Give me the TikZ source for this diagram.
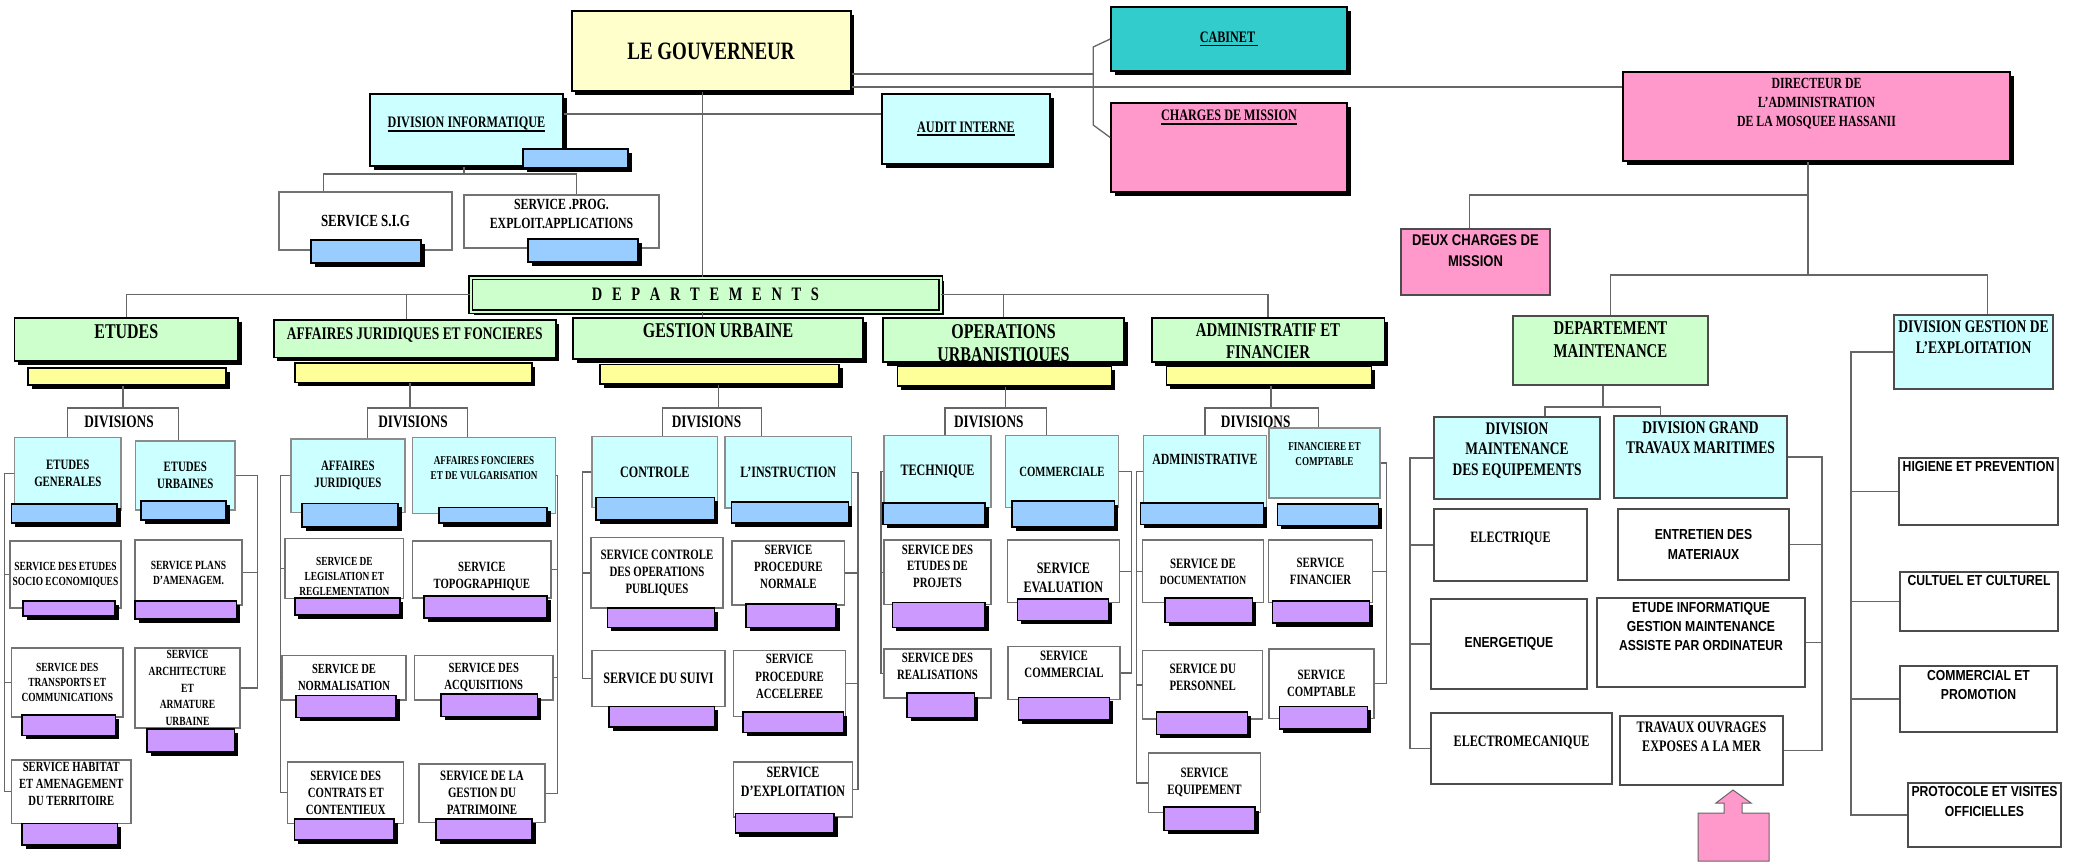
\documentclass[tikz,border=0pt]{standalone}
\usepackage{fontspec}
\setmainfont{Liberation Serif}[FakeStretch=0.76]
\newfontfamily\sansf{Liberation Sans}[FakeStretch=0.84]
\usepackage{tikz}
\usetikzlibrary{shadows}

\definecolor{govyellow}{HTML}{FFFFCC}
\definecolor{divcyan}{HTML}{CCFFFF}
\definecolor{barblue}{HTML}{99CCFF}
\definecolor{deptgreen}{HTML}{CCFFCC}
\definecolor{baryellow}{HTML}{FFFF99}
\definecolor{barlilac}{HTML}{CC99FF}
\definecolor{pinkc}{HTML}{FF99CC}
\definecolor{cabteal}{HTML}{33CCCC}

\newcommand\ulx[1]{\setbox0\hbox{#1}\leavevmode\rlap{\vrule height -2pt depth 3.6pt width \wd0}\box0}

\tikzset{
  ln/.style={draw=black!60, line width=1.3pt},
  shd/.style={general shadow={fill=black, shadow xshift=3.5pt, shadow yshift=-3.5pt}},
  sz/.style 2 args={minimum width=#1, minimum height=#2},
  fs/.style 2 args={font=\bfseries\fontsize{#1}{#2}\selectfont},
  fss/.style 2 args={font=\sansf\bfseries\fontsize{#1}{#2}\selectfont},
  lbl/.style={anchor=north, align=center, inner sep=0pt},
  chief/.style={draw=black, line width=1.6pt, shd, align=center, inner sep=0pt},
  dept/.style={chief, fill=deptgreen},
  divbox/.style={draw=black!45, line width=1.2pt, fill=divcyan, align=center, inner sep=0pt},
  svc/.style={draw=black!55, line width=1.2pt, fill=white, align=center, inner sep=0pt},
  flat/.style={draw=black!70, line width=1.2pt, fill=white, align=center, inner sep=0pt},
  bluebar/.style={draw=black, line width=1.2pt, fill=barblue, shd, inner sep=0pt},
  lilbar/.style={draw=black, line width=1.2pt, fill=barlilac, shd, inner sep=0pt},
  yelbar/.style={draw=black, line width=1.2pt, fill=baryellow, shd, inner sep=0pt},
}

\begin{document}
\begin{tikzpicture}[x=1pt, y=-1pt]
  \fill[white] (0,0) rectangle (2074,863);
  \useasboundingbox (0,0) rectangle (2074,863);

  % Gouverneur and staff
  \node[chief, fill=govyellow, line width=2pt, sz={279}{80}, fs={25}{28}] (gov) at (711,51) {LE GOUVERNEUR};
  \node[chief, fill=divcyan, sz={193}{72},
        label={[lbl, fs={16}{18}, yshift=-24pt]north:\ulx{DIVISION INFORMATIQUE}}] (divinfo) at (466.5,130) {};
  \node[bluebar, sz={105}{19}] (divinfob) at (575.5,158.5) {};
  \node[chief, fill=divcyan, sz={168}{70}, fs={16}{18}] (audit) at (966,129) {\ulx{AUDIT INTERNE}};
  \node[svc, sz={173}{58}, fs={17}{19}] (sig) at (365.5,221) {SERVICE S.I.G};
  \node[bluebar, sz={110}{23}] (sigb) at (366,251.5) {};
  \node[svc, sz={195}{53},
        label={[lbl, fs={15.5}{19}, yshift=-5pt]north:SERVICE .PROG.\\EXPLOIT.APPLICATIONS}] (prog) at (561.5,221.5) {};
  \node[bluebar, sz={110}{23}] (progb) at (583,250.5) {};
  \node[chief, fill=cabteal, sz={236}{64}, fs={16}{18}] (cab) at (1229,39) {\ulx{CABINET\ }};
  \node[chief, fill=pinkc, sz={236}{89},
        label={[lbl, fs={16}{18}, yshift=-8pt]north:\ulx{CHARGES DE MISSION}}] (chg) at (1229,147.5) {};
  \node[chief, fill=pinkc, sz={387}{89},
        label={[lbl, fs={15.5}{19}, yshift=-7pt]north:DIRECTEUR DE\\L'ADMINISTRATION\\DE LA MOSQUEE HASSANII}] (dir) at (1816.5,116.5) {};

  % Departements bar
  \node[chief, fill=deptgreen, double=deptgreen, double distance=2pt, line width=1.2pt, sz={470}{34}, fs={19}{22}] (deptbar) at (705.5,294.5)
    {D\hspace{9.7pt}E\hspace{9.7pt}P\hspace{9.7pt}A\hspace{9.7pt}R\hspace{9.7pt}T\hspace{9.7pt}E\hspace{9.7pt}M\hspace{9.7pt}E\hspace{9.7pt}N\hspace{9.7pt}T\hspace{9.7pt}S};

  % Departements
  \node[dept, sz={223.5}{43}, label={[lbl, fs={21}{24}, yshift=-7pt]north:ETUDES}] (etudes) at (126.3,339.5) {};
  \node[dept, sz={282}{37.5}, label={[lbl, fs={17.7}{20}, yshift=-8pt]north:AFFAIRES JURIDIQUES ET FONCIERES}] (ajf) at (414.7,338.8) {};
  \node[dept, sz={290}{41}, label={[lbl, fs={21}{24}, yshift=-6pt]north:GESTION URBAINE}] (gu) at (718,338.5) {};
  \node[dept, sz={241}{44}, label={[lbl, fs={21}{23}, yshift=-7pt]north:OPERATIONS\\URBANISTIQUES}] (ou) at (1003.5,340) {};
  \node[dept, sz={232.6}{44}, label={[lbl, fs={19.5}{22.6}, yshift=-6pt]north:ADMINISTRATIF ET\\FINANCIER}] (af) at (1268,340) {};
  \node[yelbar, sz={198}{17}] (y1) at (127,376.5) {};
  \node[yelbar, sz={237}{19.6}] (y2) at (413.4,372.8) {};
  \node[yelbar, sz={239}{19.4}] (y3) at (719.5,374.3) {};
  \node[yelbar, sz={214}{19.6}] (y4) at (1004.6,376.2) {};
  \node[yelbar, sz={205}{18.6}] (y5) at (1269,375.7) {};
  \node[fs={17.5}{20}, inner sep=0pt] (dvt1) at (119,422) {DIVISIONS};
  \node[fs={17.5}{20}, inner sep=0pt] (dvt2) at (413,422) {DIVISIONS};
  \node[fs={17.5}{20}, inner sep=0pt] (dvt3) at (706.5,422) {DIVISIONS};
  \node[fs={17.5}{20}, inner sep=0pt] (dvt4) at (988.8,422) {DIVISIONS};
  \node[fs={17.5}{20}, inner sep=0pt] (dvt5) at (1255.7,422) {DIVISIONS};

  % Etudes
  \node[divbox, sz={106.5}{72.5}, fs={14.3}{17}] (eg) at (67.8,473.8) {ETUDES\\GENERALES};
  \node[bluebar, sz={105.5}{19}] (egb) at (64.3,513.5) {};
  \node[divbox, sz={99.5}{69}, fs={14.3}{17}] (eu) at (185.3,475.5) {ETUDES\\URBAINES};
  \node[bluebar, sz={85}{19}] (eub) at (183.5,510.5) {};
  \node[svc, sz={111}{67}, fs={12.4}{15}] (s11) at (65.5,574.5) {SERVICE DES ETUDES\\SOCIO ECONOMIQUES};
  \node[lilbar, sz={92}{15}] (s11b) at (69,608.5) {};
  \node[svc, sz={107}{65}, fs={12.5}{15}] (s12) at (188.5,572.5) {SERVICE PLANS\\D'AMENAGEM.};
  \node[lilbar, sz={101.5}{18}] (s12b) at (185.8,610) {};
  \node[svc, sz={111.5}{69}, fs={12.4}{15}] (s13) at (67.3,682.5) {SERVICE DES\\TRANSPORTS ET\\COMMUNICATIONS};
  \node[lilbar, sz={93.6}{20.5}] (s13b) at (68.8,725.3) {};
  \node[svc, sz={105}{80}, fs={12.5}{16.8}] (s14) at (187.5,688) {SERVICE\\ARCHITECTURE\\ET\\ARMATURE\\URBAINE};
  \node[lilbar, sz={87.6}{23}] (s14b) at (190.8,740.5) {};
  \node[svc, sz={119.5}{63.5}, label={[lbl, fs={14}{17}, yshift=-3pt]north:SERVICE HABITAT\\ET AMENAGEMENT\\DU TERRITOIRE}] (s15) at (71.3,791.8) {};
  \node[lilbar, sz={95.5}{21.5}] (s15b) at (69.8,834.3) {};

  % Affaires juridiques et foncieres
  \node[divbox, sz={114}{73.6}, fs={14.3}{17}] (aj) at (347.9,475.8) {AFFAIRES\\JURIDIQUES};
  \node[bluebar, sz={96}{23.4}] (ajb) at (350,515.3) {};
  \node[divbox, sz={143}{76}, label={[lbl, fs={12}{15}, yshift=-19.5pt]north:AFFAIRES FONCIERES\\ET DE VULGARISATION}] (afv) at (484.1,475.6) {};
  \node[bluebar, sz={108}{15.5}] (afvb) at (493,515.3) {};
  \node[svc, sz={118.7}{60}, label={[lbl, fs={12.3}{15}, yshift=-19pt]north:SERVICE DE\\LEGISLATION ET\\REGLEMENTATION}] (s21) at (344.4,568.8) {};
  \node[lilbar, sz={105}{17}] (s21b) at (347.4,606.5) {};
  \node[svc, sz={138.5}{57}, label={[lbl, fs={14.1}{17}, yshift=-22pt]north:SERVICE\\TOPOGRAPHIQUE}] (s22) at (481.8,569.5) {};
  \node[lilbar, sz={123}{22}] (s22b) at (485.5,607) {};
  \node[svc, sz={124}{44.5}, fs={13.9}{17}] (s23) at (344,677.8) {SERVICE DE\\NORMALISATION};
  \node[lilbar, sz={100}{22}] (s23b) at (346,706.7) {};
  \node[svc, sz={138.5}{44.5}, fs={14}{17}] (s24) at (483.8,677.8) {SERVICE DES\\ACQUISITIONS};
  \node[lilbar, sz={96.7}{22.5}] (s24b) at (489.4,705.3) {};
  \node[svc, sz={116}{61.5}, fs={14.1}{17}] (s25) at (345.8,792.8) {SERVICE DES\\CONTRATS ET\\CONTENTIEUX};
  \node[lilbar, sz={99.3}{21}] (s25b) at (344.4,829.5) {};
  \node[svc, sz={126}{58.4}, fs={14.3}{17}] (s26) at (482,793.2) {SERVICE DE LA\\GESTION DU\\PATRIMOINE};
  \node[lilbar, sz={96}{21}] (s26b) at (484,829.5) {};

  % Gestion urbaine
  \node[divbox, sz={125.6}{71}, fs={15.9}{18}] (ctl) at (654.8,472) {CONTROLE};
  \node[bluebar, sz={118.6}{22.5}] (ctlb) at (655.3,508.8) {};
  \node[divbox, sz={126.6}{71.6}, fs={15.8}{18}] (ins) at (788.3,472.2) {L'INSTRUCTION};
  \node[bluebar, sz={117}{21}] (insb) at (790,512.5) {};
  \node[svc, sz={132}{70.3}, fs={14.3}{16.8}] (s31) at (657,572.9) {SERVICE CONTROLE\\DES OPERATIONS\\PUBLIQUES};
  \node[lilbar, sz={107.2}{19.5}] (s31b) at (661,617.8) {};
  \node[svc, sz={133}{56}, fs={15.9}{18}] (s32) at (658.5,678.8) {SERVICE DU SUIVI};
  \node[lilbar, sz={105.6}{20.2}] (s32b) at (661.8,716.9) {};
  \node[svc, sz={112.7}{64}, label={[lbl, fs={14.2}{17.4}, yshift=-4pt]north:SERVICE\\PROCEDURE\\NORMALE}] (s33) at (788.4,573) {};
  \node[lilbar, sz={90}{23.5}] (s33b) at (791,615.8) {};
  \node[svc, sz={111.7}{65.7}, label={[lbl, fs={14.2}{17.4}, yshift=-4pt]north:SERVICE\\PROCEDURE\\ACCELEREE}] (s34) at (789.6,683.7) {};
  \node[lilbar, sz={100.5}{20.7}] (s34b) at (793.3,722.4) {};
  \node[svc, sz={118.6}{55}, label={[lbl, fs={15.8}{19}, yshift=-5pt]north:SERVICE\\D'EXPLOITATION}] (s35) at (793,789.5) {};
  \node[lilbar, sz={98.4}{19.5}] (s35b) at (784.8,823.3) {};

  % Operations urbanistiques
  \node[divbox, sz={107}{71.8}, fs={15.9}{18}] (tec) at (937.5,471.6) {TECHNIQUE};
  \node[bluebar, sz={102}{21.4}] (tecb) at (934,513.7) {};
  \node[divbox, sz={112.9}{71.8}, fs={14.1}{17}] (com) at (1061.9,471.6) {COMMERCIALE};
  \node[bluebar, sz={102.5}{26}] (comb) at (1063.3,514) {};
  \node[svc, sz={107}{64.5}, label={[lbl, fs={14.2}{16.5}, yshift=-5pt]north:SERVICE DES\\ETUDES DE\\PROJETS}] (s41) at (937.5,572.3) {};
  \node[lilbar, sz={92.5}{24.8}] (s41b) at (938.8,615.1) {};
  \node[svc, sz={107}{49}, label={[lbl, fs={14.2}{17}, yshift=-4.5pt]north:SERVICE DES\\REALISATIONS}] (s42) at (937.5,673.5) {};
  \node[lilbar, sz={67.8}{24.6}] (s42b) at (940.9,705.3) {};
  \node[svc, sz={112.2}{62.7}, label={[lbl, fs={15.9}{19}, yshift=-23pt]north:SERVICE\\EVALUATION}] (s43) at (1063.4,571.4) {};
  \node[lilbar, sz={91}{21.6}] (s43b) at (1063.2,609.8) {};
  \node[svc, sz={112}{53}, label={[lbl, fs={14.3}{17}, yshift=-5pt]north:SERVICE\\COMMERCIAL}] (s44) at (1064,673) {};
  \node[lilbar, sz={90.7}{22.5}] (s44b) at (1064.2,708.8) {};

  % Administratif et financier
  \node[divbox, sz={123.4}{71.8}, label={[lbl, fs={15.5}{18}, yshift=-18.7pt]north:ADMINISTRATIVE}] (adm) at (1205,471.6) {};
  \node[bluebar, sz={122.6}{21.4}] (admb) at (1202,513.7) {};
  \node[divbox, sz={111}{70}, label={[lbl, fs={12}{14.5}, yshift=-15pt]north:FINANCIERE ET\\COMPTABLE}] (fin) at (1324.5,463) {};
  \node[bluebar, sz={101}{21.5}] (finb) at (1327.8,514.8) {};
  \node[svc, sz={120.6}{62.7}, fs={14.3}{16}] (s51) at (1203,571.4) {SERVICE DE\\\fontsize{12.5}{15}\selectfont DOCUMENTATION};
  \node[lilbar, sz={87.7}{24.4}] (s51b) at (1208.9,610.2) {};
  \node[svc, sz={104.4}{62.7}, fs={14.2}{17}] (s52) at (1320.5,571.4) {SERVICE\\FINANCIER};
  \node[lilbar, sz={96.6}{22}] (s52b) at (1321,612) {};
  \node[svc, sz={120}{68.2}, label={[lbl, fs={14.3}{17}, yshift=-14pt]north:SERVICE DU\\PERSONNEL}] (s53) at (1202.7,684.9) {};
  \node[lilbar, sz={91}{22.5}] (s53b) at (1202.2,723.3) {};
  \node[svc, sz={105}{69.3}, fs={14.2}{17}] (s54) at (1321.5,683.7) {SERVICE\\COMPTABLE};
  \node[lilbar, sz={88}{22.2}] (s54b) at (1323.3,717.9) {};
  \node[svc, sz={112.4}{59.7}, fs={14.3}{17}] (s55) at (1204.5,782.9) {SERVICE\\EQUIPEMENT};
  \node[lilbar, sz={91}{23.7}] (s55b) at (1209.5,818.9) {};

  % Mosquee Hassan II
  \node[flat, fill=pinkc, sz={149}{66}, label={[lbl, fss={15.5}{20.7}, yshift=-6pt]north:DEUX CHARGES DE\\MISSION}] (deux) at (1475.5,262) {};
  \node[flat, fill=deptgreen, sz={195}{69}, label={[lbl, fs={19.5}{22.6}, yshift=-6pt]north:DEPARTEMENT\\MAINTENANCE}] (dm) at (1610.5,350.5) {};
  \node[flat, fill=divcyan, sz={159}{74}, label={[lbl, fs={17.8}{21.5}, yshift=-6pt]north:DIVISION GESTION DE\\L'EXPLOITATION}] (dg) at (1973.5,352) {};
  \node[flat, fill=divcyan, sz={166}{82}, label={[lbl, fs={17.7}{20.5}, yshift=-6pt]north:DIVISION\\MAINTENANCE\\DES EQUIPEMENTS}] (dme) at (1517,458) {};
  \node[flat, fill=divcyan, sz={173}{82}, label={[lbl, fs={17.8}{20}, yshift=-6pt]north:DIVISION GRAND\\TRAVAUX MARITIMES}] (dgt) at (1700.5,457) {};
  \node[flat, sz={153}{72}, label={[lbl, fs={15.8}{18}, yshift=-23pt]north:ELECTRIQUE}] (el) at (1510.5,545) {};
  \node[flat, sz={156}{90}, fss={14.5}{17}] (en) at (1509,644) {ENERGETIQUE};
  \node[flat, sz={181}{71}, label={[lbl, fs={15.9}{18}, yshift=-23pt]north:ELECTROMECANIQUE}] (em) at (1521.5,748.5) {};
  \node[flat, sz={171}{71}, fss={14.5}{19.5}] (ent) at (1703.5,544.5) {ENTRETIEN DES\\MATERIAUX};
  \node[flat, sz={208}{89}, label={[lbl, fss={14.5}{19}, yshift=-5pt]north:ETUDE INFORMATIQUE\\GESTION MAINTENANCE\\ASSISTE PAR ORDINATEUR}] (eti) at (1701,642.5) {};
  \node[flat, sz={163}{69}, label={[lbl, fs={16}{18.8}, yshift=-6pt]north:TRAVAUX OUVRAGES\\EXPOSES A LA MER}] (tra) at (1701.5,750.5) {};
  \node[flat, sz={159}{67}, label={[lbl, fss={14.5}{19}, yshift=-4pt]north:HIGIENE ET PREVENTION}] (hig) at (1978.5,491.5) {};
  \node[flat, sz={158}{59}, label={[lbl, fss={14.5}{19}, yshift=-4pt]north:CULTUEL ET CULTUREL}] (cul) at (1979,601.5) {};
  \node[flat, sz={157}{66}, label={[lbl, fss={14.5}{18.8}, yshift=-5pt]north:COMMERCIAL ET\\PROMOTION}] (cp) at (1978.5,699) {};
  \node[flat, sz={153}{64}, label={[lbl, fss={14.5}{19.5}, yshift=-4pt]north:PROTOCOLE ET VISITES\\OFFICIELLES}] (pro) at (1984.5,815) {};
  \filldraw[fill=pinkc, draw=black!60, line width=1pt] (1698,861) -- (1698,813) -- (1724,813) -- (1724,803) -- (1716,803)
    -- (1733,790) -- (1751,803) -- (1742,803) -- (1742,813) -- (1769,813) -- (1769,861) -- cycle;

  % Junctions and spines
  \coordinate (gx) at (702,0);
  \coordinate (brk) at (1094,74);
  \coordinate (jd) at (464,174);
  \coordinate (jr1) at (1808,195);
  \coordinate (jr2) at (1808,275);
  \coordinate (jm) at (1603,407);
  \coordinate (dv1) at (123,408);
  \coordinate (dv2) at (410,408);
  \coordinate (dv3) at (718.4,408);
  \coordinate (dv4) at (1005.4,408);
  \coordinate (dv5) at (1271,408);
  \coordinate (sl1) at (4.6,0);   \coordinate (sr1) at (257.5,0);
  \coordinate (sl2) at (280.5,0); \coordinate (sr2) at (557.6,0);
  \coordinate (sl3) at (582.5,0); \coordinate (sr3) at (858,0);
  \coordinate (sl4) at (881,0);   \coordinate (sr4) at (1131.7,0);
  \coordinate (sl5) at (1136.7,0); \coordinate (sr5) at (1386.7,0);
  \coordinate (sl6) at (1410,0);  \coordinate (sr6) at (1822,0);
  \coordinate (sl7) at (1851,0);

  % Top connectors
  \draw[ln, line width=1pt] (gov.south -| gx) -- (deptbar.north -| gx);
  \draw[ln, line width=1pt] (deptbar.south -| gx) -- (gu.north -| gx);
  \draw[ln] ([yshift=16pt]divinfo.east) -- ([yshift=16pt]divinfo.east -| audit.west);
  \draw[ln] (divinfo.south -| jd) -- (jd);
  \draw[ln] ([xshift=-42pt]sig.north) |- (jd) -| ([xshift=15pt]prog.north);
  \draw[ln] ([yshift=-23pt]gov.east) -- (brk);
  \draw[ln] (cab.west) -- ++(-17pt,-8pt) -- ++(0pt,-78pt) -- ([yshift=10pt]chg.west);
  \draw[ln] ([yshift=-36pt]gov.east) -- ([yshift=-36pt]gov.east -| dir.west);
  \draw[ln] (etudes.north) |- (deptbar.west);
  \draw[ln] (deptbar.east) -| (af.north);
  \draw[ln] ([xshift=-8pt]ajf.north) -- ([xshift=-8pt]ajf.north |- deptbar.west);
  \draw[ln] (ou.north) -- (ou.north |- deptbar.east);

  % Etudes connectors
  \draw[ln] (y1.south -| dv1) -- (dv1);
  \draw[ln] (eg.north) |- (dv1) -| ([xshift=-7pt]eu.north);
  \draw[ln] (eg.west) -- (eg.west -| sl1) |- (s15.west);
  \draw[ln] (s11.west) -- (s11.west -| sl1);
  \draw[ln] (s13.west) -- (s13.west -| sl1);
  \draw[ln] (eu.east) -- (eu.east -| sr1) |- (s14.east);
  \draw[ln] (s12.east) -- (s12.east -| sr1);

  % Affaires juridiques connectors
  \draw[ln] (y2.south -| dv2) -- (dv2);
  \draw[ln] ([xshift=19.5pt]aj.north) |- (dv2) -| ([xshift=-16.4pt]afv.north);
  \draw[ln] (aj.west) -- (aj.west -| sl2) |- (s25.west);
  \draw[ln] (s21.west) -- (s21.west -| sl2);
  \draw[ln] (s23.west) -- (s23.west -| sl2);
  \draw[ln] (afv.east) -- (afv.east -| sr2) |- (s26.east);
  \draw[ln] (s22.east) -- (s22.east -| sr2);
  \draw[ln] (s24.east) -- (s24.east -| sr2);

  % Gestion urbaine connectors
  \draw[ln] (y3.south -| dv3) -- (dv3);
  \draw[ln] ([xshift=8pt]ctl.north) |- (dv3) -| ([xshift=-26.7pt]ins.north);
  \draw[ln] (ctl.west) -- (ctl.west -| sl3) |- (s32.west);
  \draw[ln] (s31.west) -- (s31.west -| sl3);
  \draw[ln] (ins.east) -- (ins.east -| sr3) |- (s35.east);
  \draw[ln] (s33.east) -- (s33.east -| sr3);
  \draw[ln] (s34.east) -- (s34.east -| sr3);

  % Operations urbanistiques connectors
  \draw[ln] (y4.south -| dv4) -- (dv4);
  \draw[ln] ([xshift=7.5pt]tec.north) |- (dv4) -| ([xshift=-15.5pt]com.north);
  \draw[ln] (tec.west) -- (tec.west -| sl4) |- (s42.west);
  \draw[ln] (s41.west) -- (s41.west -| sl4);
  \draw[ln] (com.east) -- (com.east -| sr4) |- (s44.east);
  \draw[ln] (s43.east) -- (s43.east -| sr4);

  % Administratif connectors
  \draw[ln] (y5.south -| dv5) -- (dv5);
  \draw[ln] (adm.north) |- (dv5) -| ([xshift=-6pt]fin.north);
  \draw[ln] (adm.west) -- (adm.west -| sl5) |- (s55.west);
  \draw[ln] (s51.west) -- (s51.west -| sl5);
  \draw[ln] (s53.west) -- (s53.west -| sl5);
  \draw[ln] (fin.east) -- (fin.east -| sr5) |- (s54.east);
  \draw[ln] (s52.east) -- (s52.east -| sr5);

  % Mosquee connectors
  \draw[ln] (dir.south -| jr1) -- (jr2);
  \draw[ln] (jr1) -| ([xshift=-6pt]deux.north);
  \draw[ln] (dm.north) |- (jr2) -| ([xshift=14pt]dg.north);
  \draw[ln] (dm.south -| jm) -- (jm);
  \draw[ln] ([xshift=28pt]dme.north) |- (jm) -| ([xshift=-40pt]dgt.north);
  \draw[ln] (dme.west) -- (dme.west -| sl6) |- (em.west);
  \draw[ln] (el.west) -- (el.west -| sl6);
  \draw[ln] (en.west) -- (en.west -| sl6);
  \draw[ln] (dgt.east) -- (dgt.east -| sr6) |- (tra.east);
  \draw[ln] (ent.east) -- (ent.east -| sr6);
  \draw[ln] (eti.east) -- (eti.east -| sr6);
  \draw[ln] (dg.west) -- (dg.west -| sl7) |- (pro.west);
  \draw[ln] (hig.west) -- (hig.west -| sl7);
  \draw[ln] (cul.west) -- (cul.west -| sl7);
  \draw[ln] (cp.west) -- (cp.west -| sl7);
\end{tikzpicture}
\end{document}
